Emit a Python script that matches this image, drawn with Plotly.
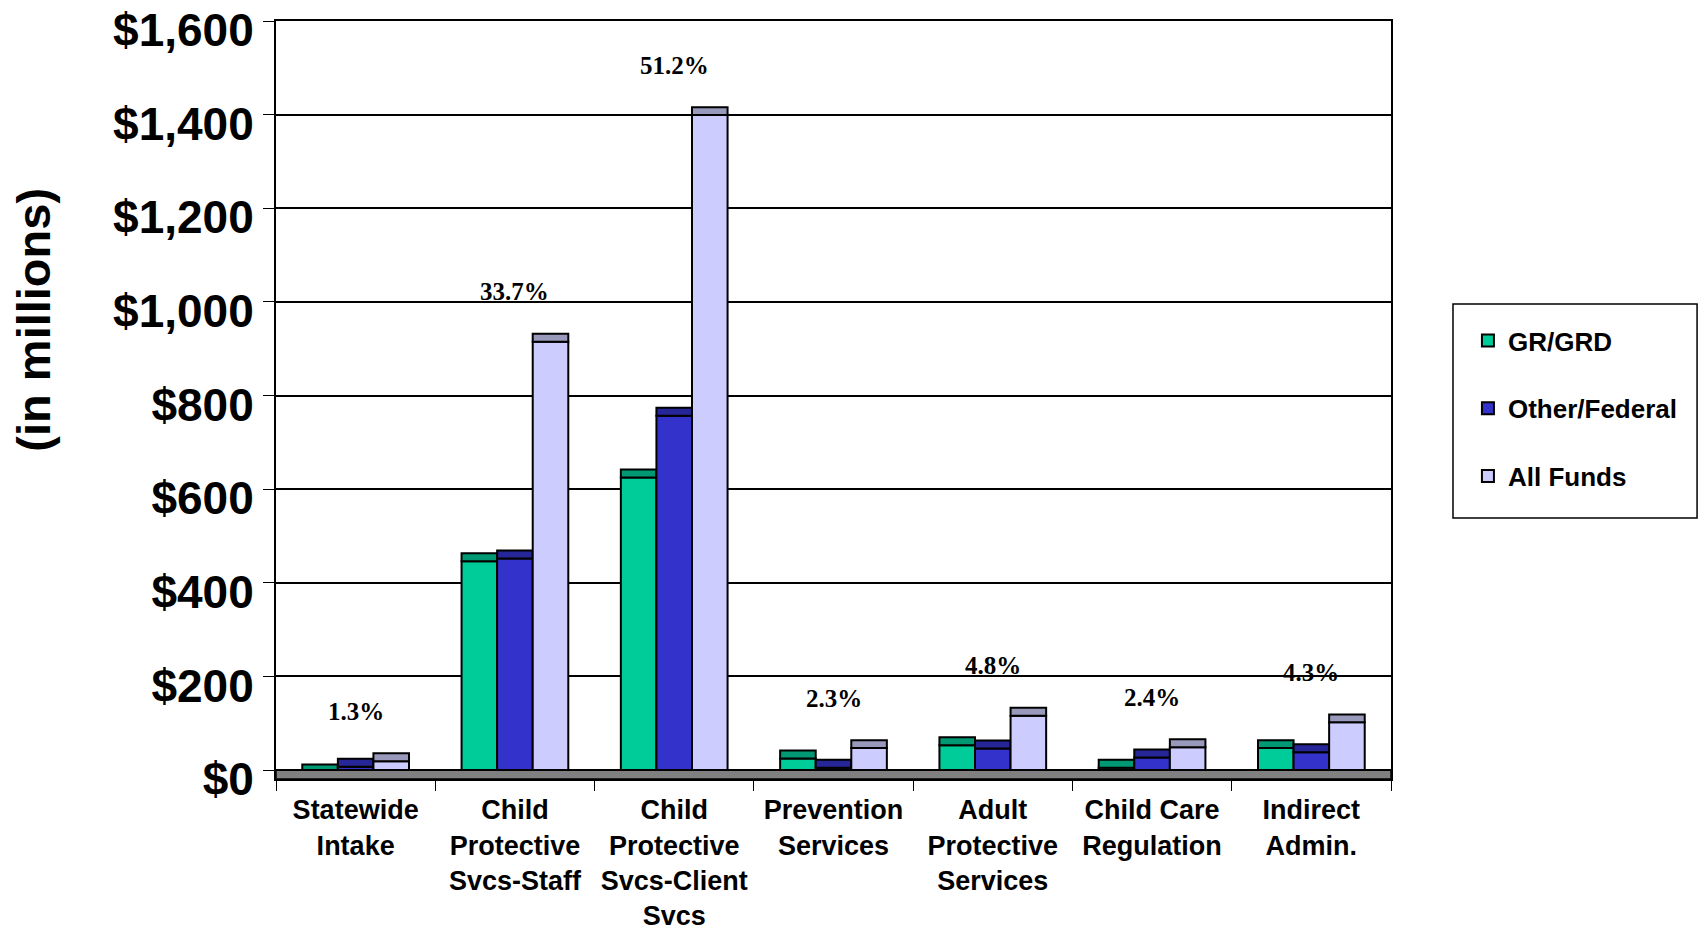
import plotly.graph_objects as go

categories = ["Statewide<br>Intake", "Child<br>Protective<br>Svcs-Staff",
              "Child<br>Protective<br>Svcs-Client<br>Svcs", "Prevention<br>Services",
              "Adult<br>Protective<br>Services", "Child Care<br>Regulation", "Indirect<br>Admin."]
gr_grd = [12, 463, 642, 42, 70, 22, 64]
other_federal = [24, 469, 774, 22, 63, 44, 55]
all_funds = [36, 932, 1416, 64, 133, 66, 119]
pct_labels = ["1.3%", "33.7%", "51.2%", "2.3%", "4.8%", "2.4%", "4.3%"]

series = [
    ("GR/GRD", gr_grd, "#00CC99", "#009973"),
    ("Other/Federal", other_federal, "#3333CC", "#262699"),
    ("All Funds", all_funds, "#CCCCFF", "#9999BB"),
]
CAP = 17  # depth of the pseudo-3D top face, in data units

fig = go.Figure()
for i, (name, vals, col, capcol) in enumerate(series):
    fig.add_trace(go.Bar(
        x=categories, y=[max(v - CAP, 0) for v in vals], name=name,
        marker=dict(color=col, line=dict(color="black", width=2)),
        offsetgroup=str(i), legendgroup=name, hoverinfo="skip"))
    fig.add_trace(go.Bar(
        x=categories, y=[min(CAP, v) for v in vals],
        base=[max(v - CAP, 0) for v in vals], name=name,
        marker=dict(color=capcol, line=dict(color="black", width=2)),
        offsetgroup=str(i), legendgroup=name, showlegend=False, hoverinfo="skip"))

for cat, v, lab in zip(categories, all_funds, pct_labels):
    fig.add_annotation(x=cat, y=v, text=lab, showarrow=False, yshift=42,
                       font=dict(family="Liberation Serif", size=25, color="black",
                                 weight="bold"))

# y-axis title (placed as annotation to match vertical position)
fig.add_annotation(xref="paper", yref="paper", x=-0.2183, y=0.6055, text="(in millions)",
                   textangle=-90, showarrow=False, xanchor="center", yanchor="middle",
                   font=dict(family="Liberation Sans", size=47, color="black", weight="bold"))

# floor band
fig.add_shape(type="rect", xref="paper", yref="y", x0=0, x1=1, y0=-19, y1=0,
              fillcolor="#808080", line=dict(color="black", width=1.5), layer="below")
# legend frame
fig.add_shape(type="rect", xref="paper", yref="paper", x0=1.0556, x1=1.2745,
              y0=0.3443, y1=0.6266, line=dict(color="black", width=1.5),
              fillcolor="rgba(0,0,0,0)")

fig.update_layout(
    width=1705, height=931,
    margin=dict(l=276, r=314, t=21, b=152, autoexpand=False),
    paper_bgcolor="white", plot_bgcolor="white",
    barmode="group", bargap=0.33, bargroupgap=0,
    font=dict(family="Liberation Sans", color="black"),
    legend=dict(x=1.069, y=0.6095, xanchor="left", yanchor="top",
                borderwidth=0, bgcolor="rgba(0,0,0,0)",
                font=dict(family="Liberation Sans", size=26, color="black", weight="bold"),
                tracegroupgap=31, traceorder="grouped",
                itemwidth=30),
    xaxis=dict(showline=True, linecolor="black", linewidth=2, mirror=True,
               ticks="outside", tickson="boundaries", ticklen=10, tickcolor="black",
               tickangle=0, automargin=False, ticklabelstandoff=6,
               tickfont=dict(family="Liberation Sans", size=27, color="black", weight="bold"),
               showgrid=False),
    yaxis=dict(range=[-19, 1600], tick0=0, dtick=200, tickprefix="$", tickformat=",.0f",
               showline=True, linecolor="black", linewidth=2, mirror=True,
               ticks="outside", ticklen=11, tickcolor="black", automargin=False,
               ticklabeloverflow="allow", ticklabelshift=9,
               showgrid=True, gridcolor="black", gridwidth=1.5, zeroline=False,
               tickfont=dict(family="Liberation Sans", size=46, color="black", weight="bold")),
)

fig.write_html("out.html", config={"displayModeBar": False},
               post_script="document.body.style.margin='0';document.body.style.overflow='hidden';")
